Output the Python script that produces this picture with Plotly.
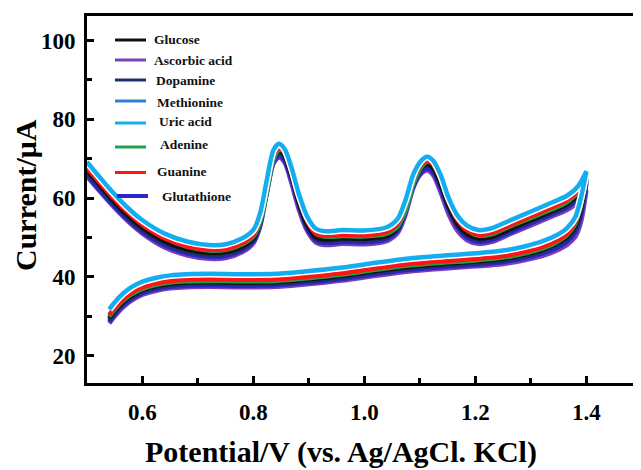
import plotly.graph_objects as go

# ---------------- data ----------------
NAMES = ["Glucose", "Ascorbic acid", "Dopamine", "Methionine", "Uric acid",
         "Adenine", "Guanine", "Glutathione"]
COLORS = {"Glucose": "#111111", "Ascorbic acid": "#7d3fb8", "Dopamine": "#1c2f6e",
          "Methionine": "#2c80d8", "Uric acid": "#12aef0", "Adenine": "#23a04c",
          "Guanine": "#ff1414", "Glutathione": "#2828c8"}

# forward scan (lower branch), potential in V
X_LO = [0.54, 0.55, 0.565, 0.58, 0.60, 0.625, 0.65, 0.68, 0.72, 0.78, 0.84, 0.90,
        0.96, 1.02, 1.08, 1.14, 1.20, 1.25, 1.29, 1.32, 1.345, 1.365, 1.38, 1.39, 1.40]
# reverse scan (upper branch)
X_UP = [1.40, 1.385, 1.365, 1.34, 1.30, 1.26, 1.23, 1.205, 1.185, 1.168, 1.152, 1.137,
        1.124, 1.113, 1.101, 1.088, 1.074, 1.06, 1.04, 1.00, 0.96, 0.93, 0.912, 0.897,
        0.882, 0.868, 0.856, 0.846, 0.836, 0.824, 0.812, 0.80, 0.78, 0.75, 0.72, 0.68,
        0.64, 0.60, 0.57, 0.54, 0.52, 0.50]

uric_lo = [31.8, 33.6, 35.8, 37.4, 38.8, 39.8, 40.4, 40.7, 40.8, 40.7, 40.8, 41.5, 42.4,
           43.6, 44.7, 45.4, 46.0, 46.7, 47.8, 49.0, 50.5, 52.4, 55.2, 60.0, 66.8]
uric_up = [66.8, 63.0, 60.6, 59.0, 56.6, 54.2, 52.4, 51.9, 53.0, 55.5, 60.0, 66.0, 69.5,
           70.5, 69.3, 66.0, 59.5, 54.8, 52.6, 51.8, 51.9, 51.6, 52.3, 55.3, 61.0, 68.0,
           72.5, 73.8, 72.2, 64.6, 56.2, 52.0, 49.8, 48.3, 48.1, 49.0, 51.0, 54.4, 58.0,
           62.5, 65.8, 69.2]

guanine_lo = [30.4, 32.2, 34.4, 36.0, 37.4, 38.4, 39.0, 39.3, 39.4, 39.3, 39.4, 40.1, 41.0,
              42.2, 43.3, 44.0, 44.6, 45.3, 46.4, 47.6, 49.1, 51.0, 54.0, 58.8, 65.8]
guanine_up = [65.8, 62.0, 59.5, 57.8, 55.4, 53.0, 51.2, 50.7, 51.8, 54.4, 59.0, 65.0, 68.5,
              69.5, 68.3, 64.9, 58.4, 53.6, 51.4, 50.6, 50.7, 50.4, 51.1, 54.1, 59.8, 66.8,
              71.5, 72.8, 71.0, 63.4, 55.0, 50.8, 48.6, 47.1, 46.9, 47.8, 49.8, 53.2, 56.8,
              61.2, 64.4, 67.6]

adenine_lo = [30.0, 31.8, 34.0, 35.6, 37.0, 38.0, 38.6, 38.9, 39.0, 38.9, 39.0, 39.7, 40.6,
              41.8, 42.9, 43.6, 44.2, 44.9, 46.0, 47.2, 48.7, 50.6, 53.5, 58.2, 65.5]
adenine_up = [65.5, 61.6, 59.0, 57.3, 55.0, 52.7, 50.9, 50.5, 51.9, 55.0, 59.8, 65.6, 68.8,
              69.2, 67.6, 63.5, 56.8, 52.8, 51.0, 50.3, 50.4, 50.2, 51.0, 54.8, 61.0, 67.8,
              71.8, 72.3, 69.8, 61.5, 53.8, 50.3, 48.3, 46.9, 46.7, 47.7, 49.9, 53.6, 57.4,
              61.9, 65.2, 68.3]

glucose_lo = [29.6, 31.4, 33.6, 35.2, 36.7, 37.7, 38.3, 38.6, 38.7, 38.6, 38.7, 39.4, 40.3,
              41.5, 42.6, 43.3, 43.9, 44.6, 45.7, 46.9, 48.4, 50.2, 52.9, 57.6, 65.0]
glucose_up = [65.0, 61.0, 58.5, 56.8, 54.4, 52.0, 50.2, 49.8, 50.9, 53.4, 57.9, 63.8, 67.6,
              68.7, 67.5, 64.0, 57.3, 52.6, 50.4, 49.7, 49.8, 49.5, 50.1, 53.1, 58.8, 66.0,
              70.8, 72.2, 70.3, 62.3, 54.0, 49.9, 47.7, 46.3, 46.1, 47.0, 49.0, 52.5, 56.0,
              60.5, 63.8, 67.0]

methionine_lo = [29.3, 31.2, 33.4, 35.0, 36.5, 37.5, 38.1, 38.4, 38.5, 38.4, 38.5, 39.2, 40.1,
                 41.3, 42.4, 43.1, 43.7, 44.4, 45.5, 46.7, 48.2, 50.0, 52.6, 57.2, 64.6]
methionine_up = [64.6, 60.8, 58.4, 56.8, 54.4, 52.0, 50.2, 49.7, 50.8, 53.3, 57.8, 63.8, 67.5,
                 68.6, 67.3, 63.8, 57.2, 52.5, 50.4, 49.6, 49.7, 49.4, 50.1, 53.1, 58.8, 66.0,
                 70.8, 72.0, 70.2, 62.3, 54.0, 49.8, 47.6, 46.1, 45.9, 46.8, 48.8, 52.2, 55.8,
                 60.3, 63.6, 67.0]

dopamine_lo = [29.0, 31.0, 33.2, 34.8, 36.3, 37.3, 37.9, 38.2, 38.3, 38.2, 38.3, 39.0, 39.9,
               41.1, 42.2, 42.9, 43.5, 44.2, 45.3, 46.4, 47.9, 49.6, 52.2, 56.5, 64.4]
dopamine_up = [64.4, 60.5, 58.1, 56.5, 54.1, 51.7, 49.9, 49.4, 50.5, 53.0, 57.5, 63.3, 67.2,
               68.3, 67.1, 63.6, 57.0, 52.3, 50.1, 49.3, 49.4, 49.1, 49.8, 52.8, 58.5, 65.6,
               70.3, 71.6, 69.8, 62.0, 53.7, 49.5, 47.3, 45.8, 45.6, 46.5, 48.5, 51.9, 55.5,
               60.0, 63.3, 66.5]

glutathione_lo = [28.6, 30.5, 32.8, 34.4, 35.9, 36.9, 37.5, 37.8, 37.9, 37.8, 37.9, 38.6, 39.5,
                  40.7, 41.8, 42.5, 43.1, 43.8, 44.8, 45.9, 47.2, 48.9, 51.3, 55.5, 63.8]
glutathione_up = [63.8, 60.0, 57.6, 56.0, 53.6, 51.2, 49.4, 48.9, 50.0, 52.5, 57.0, 62.6, 66.5,
                  67.5, 66.3, 62.9, 56.4, 51.8, 49.6, 48.8, 48.9, 48.6, 49.3, 52.3, 58.0, 65.0,
                  69.6, 70.8, 69.0, 61.4, 53.2, 49.0, 46.8, 45.3, 45.1, 46.0, 48.0, 51.4, 55.0,
                  59.3, 62.5, 65.8]

ascorbic_lo = [28.2, 30.0, 32.3, 34.0, 35.5, 36.5, 37.1, 37.4, 37.5, 37.4, 37.5, 38.2, 39.1,
               40.3, 41.4, 42.1, 42.7, 43.3, 44.3, 45.3, 46.6, 48.1, 50.2, 53.8, 62.0]
ascorbic_up = [62.0, 59.0, 57.0, 55.5, 53.1, 50.7, 48.9, 48.4, 49.3, 51.6, 55.8, 61.6, 65.8,
               67.0, 66.0, 62.6, 55.8, 51.2, 49.1, 48.3, 48.4, 48.1, 48.8, 51.6, 57.0, 64.0,
               69.0, 70.3, 68.8, 61.2, 52.8, 48.6, 46.3, 44.8, 44.6, 45.5, 47.5, 51.0, 54.6,
               59.0, 62.2, 65.5]

SERIES = {
    "Methionine": (methionine_lo, methionine_up),
    "Ascorbic acid": (ascorbic_lo, ascorbic_up),
    "Glutathione": (glutathione_lo, glutathione_up),
    "Dopamine": (dopamine_lo, dopamine_up),
    "Glucose": (glucose_lo, glucose_up),
    "Adenine": (adenine_lo, adenine_up),
    "Guanine": (guanine_lo, guanine_up),
    "Uric acid": (uric_lo, uric_up),
}

X_TICKS = [0.6, 0.8, 1.0, 1.2, 1.4]
X_TICKTEXT = ["0.6", "0.8", "1.0", "1.2", "1.4"]
Y_TICKS = [20, 40, 60, 80, 100]

# legend placement (pixel rows of the reference legend)
LEG_LINE_Y = [40, 60, 80, 101, 123, 147, 172.5, 196]
LEG_TEXT_Y = [40, 60, 81, 103, 121, 144, 172, 196]
LEG_TEXT_X = [152, 152, 154, 155, 157, 158, 155, 160]

# ---------------- figure ----------------
# the page adds an 8 px body margin, so the figure is drawn 8 px smaller and
# all reference pixel positions are shifted by that offset
OFF = 8
W, H = 641 - OFF, 470 - OFF
PLOT_L, PLOT_R, PLOT_T, PLOT_B = 87, 638, 16, 383   # frame in reference pixels
L, T = PLOT_L - OFF, PLOT_T - OFF
R, B = W - (PLOT_R - OFF), H - (PLOT_B - OFF)
PW, PH = PLOT_R - PLOT_L, PLOT_B - PLOT_T


def px2paper_x(px):
    return (px - PLOT_L) / PW


def px2paper_y(py):
    return (PLOT_B - py) / PH


fig = go.Figure()
for name, (lo, up) in SERIES.items():
    if name == "Uric acid":
        # thin white halo seen between the uric-acid trace and the others
        fig.add_trace(go.Scatter(
            x=X_LO + X_UP, y=lo + up, mode="lines",
            line=dict(color="white", width=7.5, shape="spline", smoothing=0.8),
            showlegend=False, hoverinfo="skip"))
    fig.add_trace(go.Scatter(
        x=X_LO + X_UP, y=lo + up, mode="lines", name=name,
        line=dict(color=COLORS[name], width=4.5, shape="spline", smoothing=0.8),
        showlegend=False, hoverinfo="skip"))

font_fam = "Liberation Serif, Times New Roman, serif"

shapes = []
annotations = []
for i, name in enumerate(NAMES):
    yl = px2paper_y(LEG_LINE_Y[i])
    x0 = px2paper_x(117 if name == "Glutathione" else 115)
    x1 = px2paper_x(148 if name == "Glutathione" else 146)
    shapes.append(dict(type="line", xref="paper", yref="paper", x0=x0, x1=x1, y0=yl, y1=yl,
                       line=dict(color=COLORS[name], width=3 if name != "Glutathione" else 4)))
    annotations.append(dict(xref="paper", yref="paper", x=px2paper_x(LEG_TEXT_X[i]),
                            y=px2paper_y(LEG_TEXT_Y[i]), xanchor="left", yanchor="middle",
                            text="<b>%s</b>" % name, showarrow=False,
                            font=dict(family=font_fam, size=13.5, color="#111")))

# right frame edge (thin grey)
shapes.append(dict(type="line", xref="paper", yref="paper", x0=1, x1=1, y0=0, y1=1,
                   line=dict(color="#999", width=1.5)))

annotations.append(dict(xref="paper", yref="paper", x=px2paper_x(341), y=px2paper_y(452),
                        xanchor="center", yanchor="middle", showarrow=False,
                        text="<b>Potential/V (vs. Ag/AgCl. KCl)</b>",
                        font=dict(family=font_fam, size=30, color="#000")))
annotations.append(dict(xref="paper", yref="paper", x=px2paper_x(25), y=px2paper_y(195),
                        xanchor="center", yanchor="middle", showarrow=False, textangle=-90,
                        text="<b>Current/μA</b>",
                        font=dict(family=font_fam, size=30, color="#000")))

fig.update_layout(
    width=W, height=H,
    margin=dict(l=L, r=R, t=T, b=B, autoexpand=False),
    paper_bgcolor="white", plot_bgcolor="white",
    shapes=shapes, annotations=annotations,
    xaxis=dict(range=[0.5, 1.493], showgrid=False, zeroline=False,
               showline=True, linecolor="#000", linewidth=3, mirror=True,
               tickmode="array", tickvals=X_TICKS, ticktext=X_TICKTEXT,
               ticks="inside", ticklen=7, tickwidth=3, tickcolor="#000",
               minor=dict(dtick=0.1, tick0=0.5, ticks="inside", ticklen=5, tickwidth=3,
                          tickcolor="#000", showgrid=False),
               ticklabelstandoff=6,
               tickfont=dict(family=font_fam, size=23, color="#000", weight="bold")),
    yaxis=dict(range=[13.1, 106.2], showgrid=False, zeroline=False,
               showline=True, linecolor="#000", linewidth=3,
               tickmode="array", tickvals=Y_TICKS,
               ticks="inside", ticklen=7, tickwidth=3, tickcolor="#000",
               minor=dict(dtick=10, tick0=0, ticks="inside", ticklen=5, tickwidth=3,
                          tickcolor="#000", showgrid=False),
               ticklabelstandoff=4,
               tickfont=dict(family=font_fam, size=23, color="#000", weight="bold")),
)

fig.write_html("out.html")
